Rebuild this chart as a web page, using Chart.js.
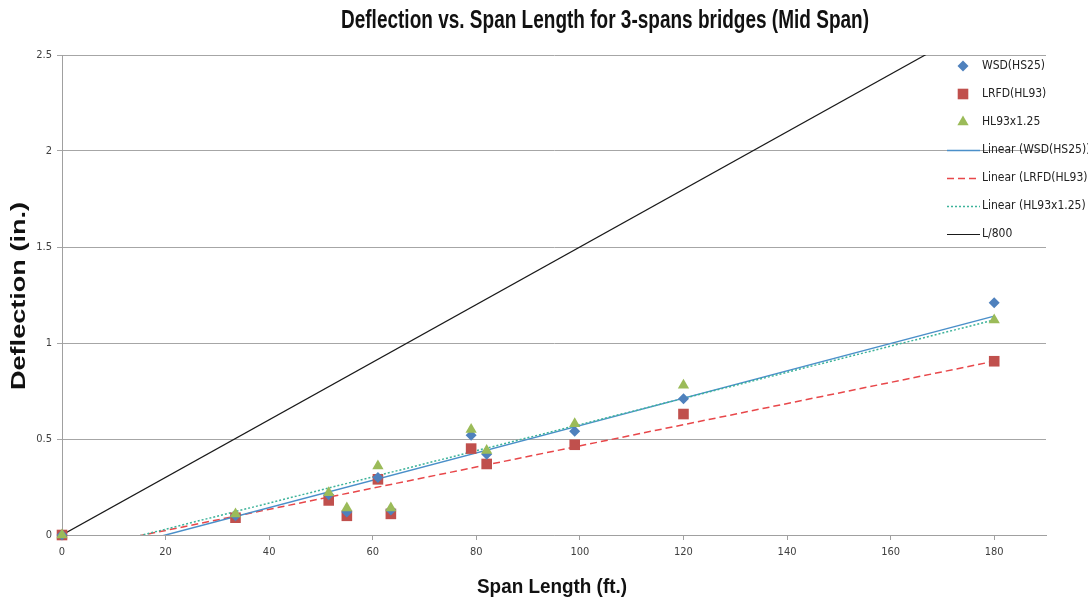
<!DOCTYPE html>
<html>
<head>
<meta charset="utf-8">
<script src="https://cdn.jsdelivr.net/npm/chart.js@4"></script>
<style>
  html, body { margin: 0; padding: 0; background: #fff; }
  #wrap { width: 1088px; height: 605px; }
</style>
</head>
<body>
<div id="wrap"><canvas id="myChart" width="1088" height="605"></canvas></div>
<script>
// values
const spanLength = [0, 33.5, 51.5, 55, 61, 63.5, 79, 82, 99, 120, 180];
const wsd  = [0, 0.10, 0.21, 0.12, 0.30, 0.13, 0.52, 0.42, 0.54, 0.71, 1.21];
const lrfd = [0, 0.09, 0.18, 0.10, 0.29, 0.11, 0.45, 0.37, 0.47, 0.63, 0.905];
const hl93 = [0, 0.11, 0.22, 0.14, 0.36, 0.14, 0.55, 0.44, 0.58, 0.78, 1.12];

// trend line ends (x = 0 and x = 180), as drawn
const trendX = [0, 180];
const wsdTrend  = [-0.1425, 1.14];
const lrfdTrend = [-0.0865, 0.905];
const hl93Trend = [-0.106, 1.12];
const limitLine = [0, 2.7]; // L/800

const xTicks = [0, 20, 40, 60, 80, 100, 120, 140, 160, 180];

const chartTitle = 'Deflection vs. Span Length for 3-spans bridges (Mid Span)';
const xTitle = 'Span Length (ft.)';
const yTitle = 'Deflection (in.)';

const pts = (xs, ys) => xs.map((x, i) => ({ x: x, y: ys[i] }));

const narrow = "'Liberation Sans Narrow', 'DejaVu Sans Condensed', sans-serif";
const boldFont = "bold 21px 'Liberation Sans', Arial, sans-serif";

// text squeezed/stretched to the width it has in the picture
function fitText(ctx, text, font, width, x, y, rot) {
  ctx.save();
  ctx.font = font;
  const w = ctx.measureText(text).width;
  ctx.translate(x, y);
  if (rot) ctx.rotate(rot);
  ctx.scale(width / w, 1);
  ctx.textAlign = 'center';
  ctx.textBaseline = 'alphabetic';
  ctx.fillStyle = '#111';
  ctx.fillText(text, 0, 0);
  ctx.restore();
}

const decorations = {
  id: 'decorations',
  afterDraw(chart) {
    const ctx = chart.ctx;
    fitText(ctx, chartTitle, "bold 25px 'Liberation Sans', Arial, sans-serif", 528, 605, 28);
    fitText(ctx, xTitle, boldFont, 150, 552, 593);
    fitText(ctx, yTitle, boldFont, 188, 25, 296, -Math.PI / 2);

    ctx.save();
    ctx.font = '12px ' + narrow;
    ctx.textBaseline = 'middle';
    chart.data.datasets.forEach((ds, i) => {
      const y = 66 + i * 28;
      if (ds.showLine) {
        ctx.strokeStyle = ds.borderColor;
        ctx.lineWidth = ds.borderWidth;
        ctx.setLineDash(ds.borderDash || []);
        ctx.beginPath();
        ctx.moveTo(947, y + 0.5);
        ctx.lineTo(980, y + 0.5);
        ctx.stroke();
        ctx.setLineDash([]);
      } else {
        ctx.fillStyle = ds.backgroundColor;
        Chart.helpers.drawPoint(ctx, { pointStyle: ds.pointStyle, radius: ds.pointRadius, borderWidth: 0, rotation: 0 }, 963, y);
      }
      ctx.fillStyle = '#222';
      ctx.fillText(ds.label, 982, y);
    });
    ctx.restore();
  }
};

new Chart(document.getElementById('myChart').getContext('2d'), {
  type: 'scatter',
  data: {
    datasets: [
      { label: 'WSD(HS25)', data: pts(spanLength, wsd), pointStyle: 'rectRot', pointRadius: 5.5,
        backgroundColor: '#4F81BD', borderColor: '#4F81BD', borderWidth: 0, showLine: false, order: 1, clip: false },
      { label: 'LRFD(HL93)', data: pts(spanLength, lrfd), pointStyle: 'rect', pointRadius: 7.5,
        backgroundColor: '#C0504D', borderColor: '#C0504D', borderWidth: 0, showLine: false, order: 2, clip: false },
      { label: 'HL93x1.25', data: pts(spanLength, hl93), pointStyle: 'triangle', pointRadius: 6.5,
        backgroundColor: '#9BBB59', borderColor: '#9BBB59', borderWidth: 0, showLine: false, order: 0, clip: false },
      { label: 'Linear (WSD(HS25))', data: pts(trendX, wsdTrend), showLine: true, pointRadius: 0,
        borderColor: '#4A8FC9', borderWidth: 1.5, order: 5, clip: 0 },
      { label: 'Linear (LRFD(HL93))', data: pts(trendX, lrfdTrend), showLine: true, pointRadius: 0,
        borderColor: '#E8474A', borderWidth: 1.5, borderDash: [7, 4], order: 6, clip: 0 },
      { label: 'Linear (HL93x1.25)', data: pts(trendX, hl93Trend), showLine: true, pointRadius: 0,
        borderColor: '#3DB39A', borderWidth: 1.5, borderDash: [2, 2], order: 4, clip: 0 },
      { label: 'L/800', data: pts(trendX, limitLine), showLine: true, pointRadius: 0,
        borderColor: '#1a1a1a', borderWidth: 1.2, order: 3, clip: 0 }
    ]
  },
  options: {
    responsive: false,
    animation: false,
    layout: { padding: { left: 0, right: 42, top: 55, bottom: 0 } },
    plugins: {
      legend: { display: false },
      tooltip: { enabled: false },
      title: { display: false }
    },
    scales: {
      x: {
        type: 'linear', min: 0, max: 190,
        afterBuildTicks: (s) => { s.ticks = xTicks.map(v => ({ value: v })); },
        afterFit: (s) => { s.height = 70; },
        grid: { drawOnChartArea: false, drawTicks: true, tickLength: 5, color: '#A0A0A0' },
        border: { color: '#A0A0A0' },
        ticks: { color: '#404040', font: { family: narrow, size: 11 }, padding: 6, maxRotation: 0 }
      },
      y: {
        min: 0, max: 2.5,
        ticks: { stepSize: 0.5, color: '#404040', font: { family: narrow, size: 11 }, padding: 5,
          callback: (v) => String(Number(v)) },
        afterFit: (s) => { s.width = 62; },
        grid: { color: '#A6A6A6', tickLength: 5 },
        border: { color: '#A0A0A0' }
      }
    }
  },
  plugins: [decorations]
});
</script>
</body>
</html>
